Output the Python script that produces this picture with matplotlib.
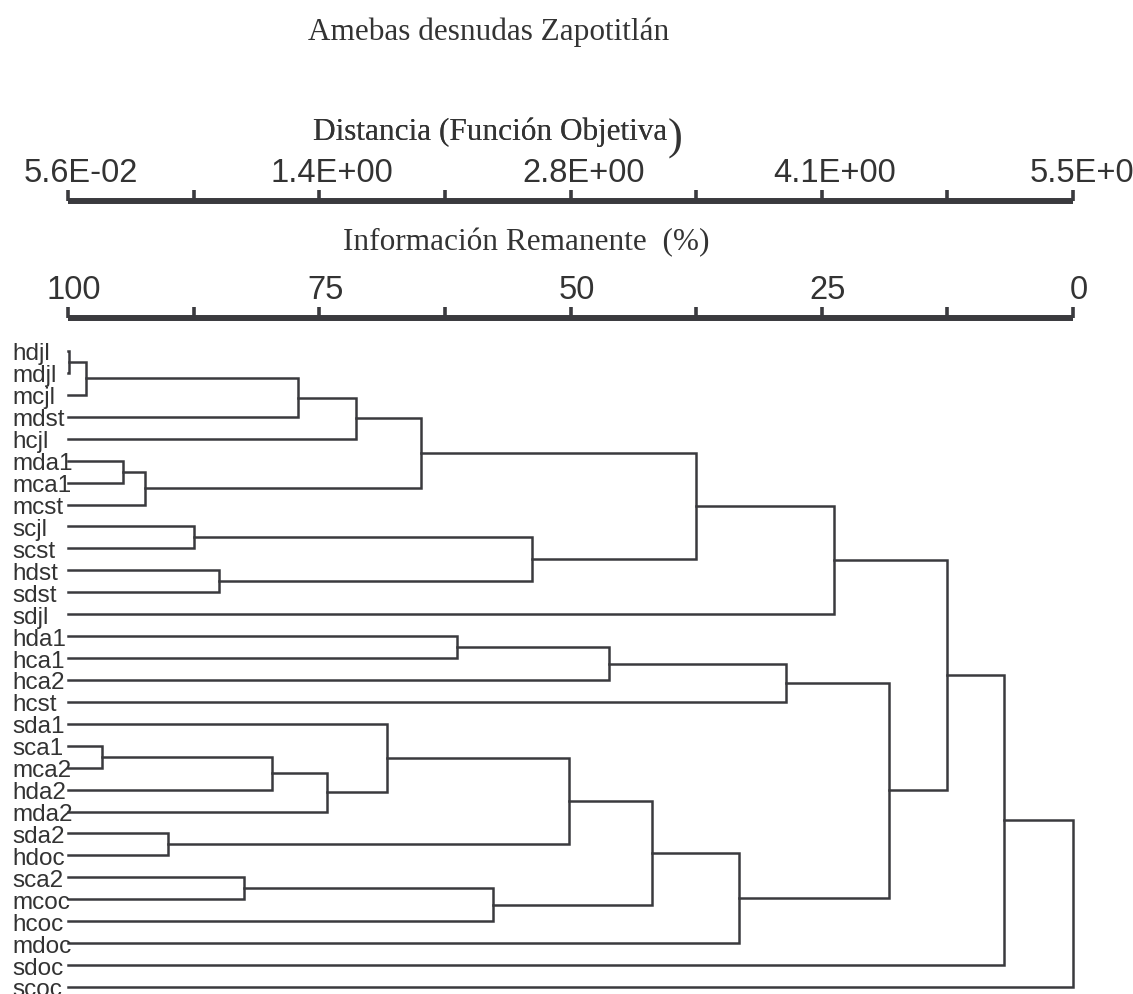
import matplotlib
matplotlib.use("Agg")
import matplotlib.pyplot as plt
import matplotlib.transforms as mtransforms
import numpy as np

plt.rcParams["font.family"] = ["Liberation Sans", "DejaVu Sans"]

line_color = "#3a3a3e"
text_color = "#333333"

# hojas del dendrograma, en el orden en que se dibujan
leaves = ['hdjl', 'mdjl', 'mcjl', 'mdst', 'hcjl', 'mda1', 'mca1', 'mcst',
          'scjl', 'scst', 'hdst', 'sdst', 'sdjl', 'hda1', 'hca1', 'hca2',
          'hcst', 'sda1', 'sca1', 'mca2', 'hda2', 'mda2', 'sda2', 'hdoc',
          'sca2', 'mcoc', 'hcoc', 'mdoc', 'sdoc', 'scoc']

# uniones: nodo izquierdo, nodo derecho, información remanente (%)
# los nodos 0-29 son hojas, el nodo 30 + i es la unión i
merge_left = [0, 30, 31, 32, 5, 34, 33, 8, 10, 37, 36, 40, 13, 42, 43,
              18, 45, 46, 17, 22, 48, 24, 51, 50, 53, 44, 41, 56, 57]
merge_right = [1, 2, 3, 4, 6, 7, 35, 9, 11, 38, 39, 12, 14, 15, 16,
               19, 20, 21, 47, 23, 49, 25, 26, 52, 27, 54, 55, 28, 29]
merge_info = [99.9, 98.2, 77.1, 71.3, 94.5, 92.3, 64.9, 87.5, 85.0, 53.8,
              37.5, 23.8, 61.3, 46.2, 28.6, 96.6, 79.7, 74.2, 68.3, 90.0,
              50.1, 82.5, 57.7, 41.9, 33.2, 18.3, 12.5, 6.9, 0.0]

# escalas superiores
dist_min, dist_max = 0.056, 5.5
info_ticks = [100, 75, 50, 25, 0]

W, H = 1133, 995
fig = plt.figure(figsize=(W / 100, H / 100), dpi=100)

x0, x1 = 68, 1073
left = x0 / W
width = (x1 - x0) / W


def scale_axis(y_px, xlim, major, labels, minor, dx_px):
    ax = fig.add_axes([left, 1 - y_px / H, width, 0])
    ax.set_xlim(*xlim)
    ax.set_ylim(0, 1)
    for s in ['left', 'right', 'bottom']:
        ax.spines[s].set_visible(False)
    ax.spines['top'].set_linewidth(4.3)
    ax.spines['top'].set_color(line_color)
    ax.spines['top'].set_capstyle('butt')
    ax.xaxis.tick_top()
    ax.set_yticks([])
    ax.set_xticks(major, labels)
    ax.set_xticks(minor, minor=True)
    ax.tick_params(axis='x', which='both', direction='out', length=8,
                   width=2.6, color=line_color, pad=1.5, labelsize=23.5,
                   labelcolor=text_color)
    off = mtransforms.ScaledTranslation(dx_px / 100, 0, fig.dpi_scale_trans)
    for lab in ax.get_xticklabels():
        lab.set_transform(lab.get_transform() + off)
    return ax


dist_major = np.linspace(dist_min, dist_max, 5)
dist_minor = np.linspace(dist_min, dist_max, 9)
dist_labels = ['{:.1E}'.format(d) for d in dist_major]
dist_labels[-1] = dist_labels[-1][:-1]
ax_dist = scale_axis(202, (dist_min, dist_max), dist_major, dist_labels,
                     dist_minor, 13)
# la última etiqueta queda pegada al borde derecho
ax_dist.get_xticklabels()[-1].set_horizontalalignment('left')
ax_dist.get_xticklabels()[-1].set_transform(
    ax_dist.get_xticklabels()[-1].get_transform()
    + mtransforms.ScaledTranslation(-56 / 100, 0, fig.dpi_scale_trans))

info_minor = np.linspace(100, 0, 9)
scale_axis(319, (100, 0), info_ticks, [str(t) for t in info_ticks],
           info_minor, 6)

# títulos
serif = ["Liberation Serif", "DejaVu Serif"]
fig.text(308 / W, 1 - 40 / H, "Amebas desnudas Zapotitlán", family=serif,
         fontsize=22.5, color=text_color, ha='left', va='baseline')
t = fig.text(313 / W, 1 - 140 / H, "Distancia (Función Objetiva",
             family=serif, fontsize=22.5, color=text_color, ha='left',
             va='baseline')
fig.add_artist(t)
ann = plt.annotate(")", xy=(1, 0), xycoords=t, xytext=(0.5, -2),
                   textcoords='offset points', family=serif, fontsize=32,
                   color=text_color, ha='left', va='baseline',
                   annotation_clip=False)
ann.remove()
fig.add_artist(ann)
fig.text(343 / W, 1 - 250 / H, "Información Remanente  (%)", family=serif,
         fontsize=22.5, color=text_color, ha='left', va='baseline')

# dendrograma
top_px, spacing = 352, 21.93
y_lo = -0.5
y_hi = (H - top_px) / spacing
ax = fig.add_axes([left, 0, width, (H - top_px + 0.5 * spacing) / H])
ax.set_xlim(100, 0)
ax.set_ylim(y_hi, y_lo)
ax.axis('off')

n = len(leaves)
node_y = list(range(n))
node_x = [100.0] * n
for a, b, h in zip(merge_left, merge_right, merge_info):
    ax.plot([node_x[a], h, h, node_x[b]],
            [node_y[a], node_y[a], node_y[b], node_y[b]],
            color=line_color, lw=1.8, solid_joinstyle='miter',
            clip_on=False)
    node_x.append(h)
    node_y.append((node_y[a] + node_y[b]) / 2)

for i, name in enumerate(leaves):
    ax.text(100, i, name, fontsize=17.5, color=text_color, ha='left',
            va='center_baseline',
            transform=ax.transData + mtransforms.ScaledTranslation(
                -56 / 100, 0, fig.dpi_scale_trans))

fig.savefig("out.png", dpi=100)
